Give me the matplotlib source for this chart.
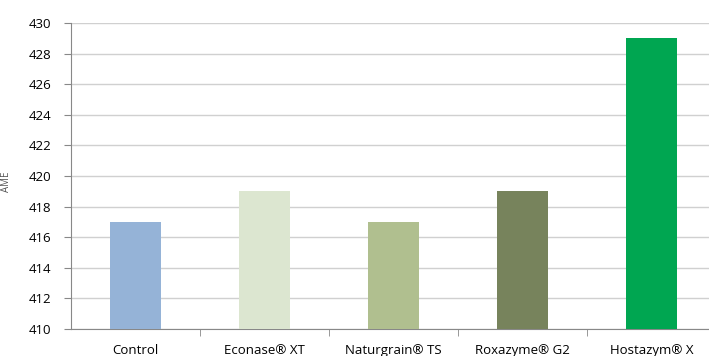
import numpy as np
import matplotlib.pyplot as plt

categories = ['Control', 'Econase® XT', 'Naturgrain® TS', 'Roxazyme® G2', 'Hostazym® X']
values = [417, 419, 417, 419, 429]
colors = ['#95b3d7', '#dce6d0', '#b0bf8f', '#77835c', '#00a651']

plt.rcParams['font.family'] = ['Open Sans', 'DejaVu Sans']

fig = plt.figure(figsize=(7.09, 3.56), dpi=100)
ax = fig.add_axes([71/709, 1-329/356, 645/709, (329-23)/356])

x = np.arange(len(categories))
ax.bar(x, np.array(values) - 410, bottom=410, width=0.4, color=colors, zorder=3)

ax.set_ylim(410, 430)
ax.set_xlim(-0.5, len(categories) - 0.5)
ax.set_yticks(np.arange(410, 431, 2))
ax.yaxis.grid(True, color='#d0d0d0', linewidth=1, zorder=0)
ax.tick_params(axis='y', labelsize=9.5, length=5, color='#888888', pad=9)

ax.set_xticks(x)
ax.set_xticklabels(categories)
ax.set_xticks(np.arange(0.5, len(categories) - 0.5), minor=True)
ax.tick_params(axis='x', which='major', length=0, labelsize=9.5, pad=11)
ax.tick_params(axis='x', which='minor', length=5, color='#888888')

for s in ['top', 'right']:
    ax.spines[s].set_visible(False)
for s in ['left', 'bottom']:
    ax.spines[s].set_color('#888888')

fig.text(0.002, 0.49, 'AME', rotation=90, fontsize=7, va='center', ha='left', color='#555555')

plt.savefig('out.png', dpi=100)
